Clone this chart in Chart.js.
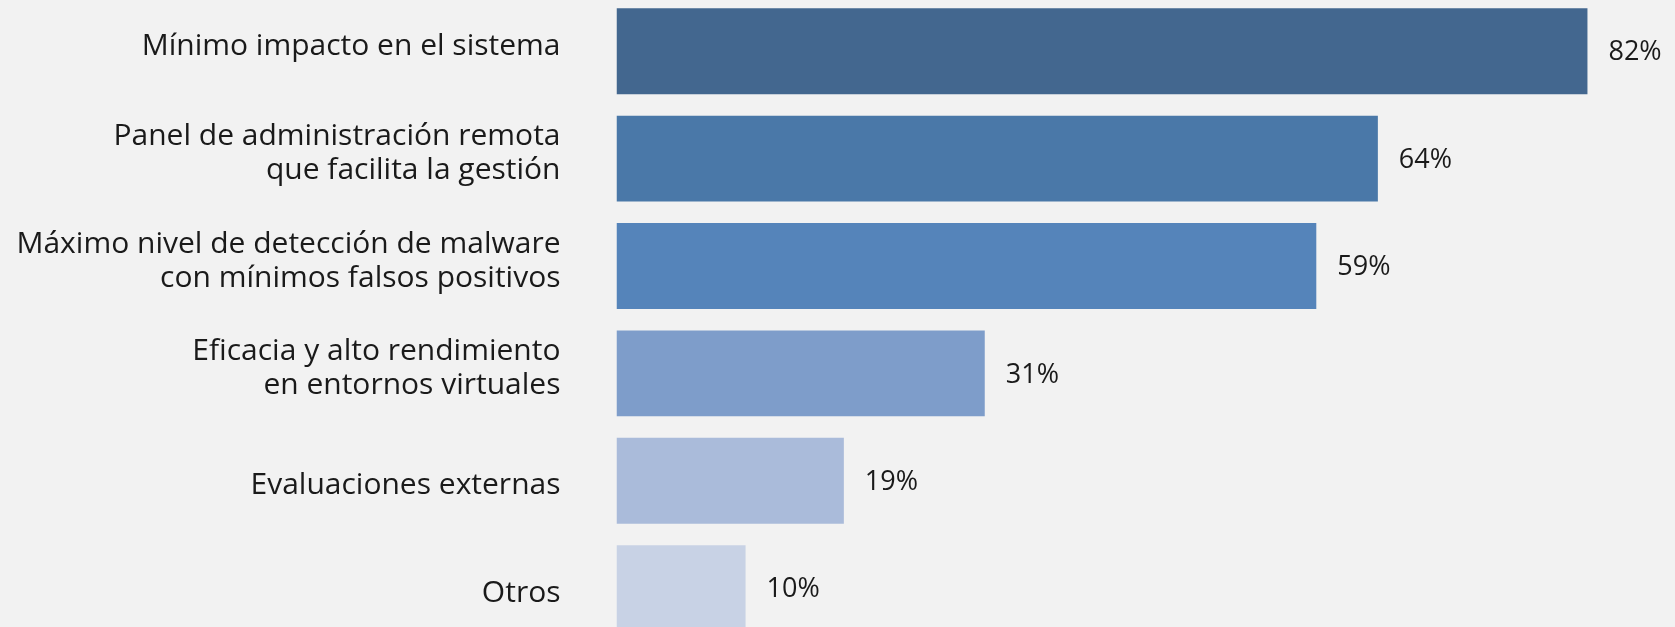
<!DOCTYPE html>
<html>
<head>
<meta charset="utf-8">
<script src="https://cdn.jsdelivr.net/npm/chart.js@4"></script>
<style>
  html, body { margin: 0; padding: 0; background: #f2f2f2; overflow: hidden; width: 1675px; height: 627px; }
  #wrap { position: absolute; left: 0; top: -3px; width: 1675px; height: 646px; }
</style>
</head>
<body>
<div id="wrap"><canvas id="c"></canvas></div>
<script>
const categories = [
  "Mínimo impacto en el sistema",
  ["Panel de administración remota", "que facilita la gestión"],
  ["Máximo nivel de detección de malware", "con mínimos falsos positivos"],
  ["Eficacia y alto rendimiento", "en entornos virtuales"],
  "Evaluaciones externas",
  "Otros"
];
const values = [82, 64.3, 59.1, 31.1, 19.2, 10.9];
const valueLabels = ["82%", "64%", "59%", "31%", "19%", "10%"];
const barColors = ["#43678f", "#4a78a8", "#5584ba", "#7e9dca", "#aabbda", "#c8d2e5"];

const valueLabelPlugin = {
  id: 'valueLabels',
  afterDatasetsDraw(chart) {
    const ctx = chart.ctx;
    const meta = chart.getDatasetMeta(0);
    ctx.save();
    ctx.font = '27px "Open Sans"';
    ctx.fillStyle = '#1a1a1a';
    ctx.textAlign = 'left';
    ctx.textBaseline = 'middle';
    meta.data.forEach((bar, i) => {
      ctx.fillText(valueLabels[i], bar.x + 21, bar.y + 1.5);
    });
    ctx.restore();
  }
};

// the last two labels sit slightly lower in the original layout
const lowered = (i) => i >= 4;

new Chart(document.getElementById('c'), {
  type: 'bar',
  data: {
    labels: categories,
    datasets: [{
      data: values,
      backgroundColor: barColors,
      borderWidth: 0,
      barPercentage: 0.8,
      categoryPercentage: 1.0
    }]
  },
  options: {
    indexAxis: 'y',
    responsive: true,
    maintainAspectRatio: false,
    animation: false,
    layout: { padding: { left: 0, right: 16.5, top: 0.5, bottom: 1.1 } },
    plugins: { legend: { display: false }, tooltip: { enabled: false } },
    scales: {
      x: { display: false, min: 0, max: 88 },
      y: {
        afterFit(scale) {
          scale.width = 616.5;
          scale.paddingTop = 0;
          scale.paddingBottom = 0;
        },
        grid: { display: false, drawTicks: false },
        border: { display: false },
        ticks: {
          padding: 56,
          labelOffset: -5,
          color: '#1a1a1a',
          callback(value, index) {
            const l = this.getLabelForValue(value);
            return lowered(index) ? ["", l] : l;
          },
          font: (ctx) => ({
            family: '"Open Sans"',
            size: 30,
            lineHeight: lowered(ctx.index) ? 0.667 : 1.135
          })
        }
      }
    }
  },
  plugins: [valueLabelPlugin]
});
</script>
</body>
</html>
